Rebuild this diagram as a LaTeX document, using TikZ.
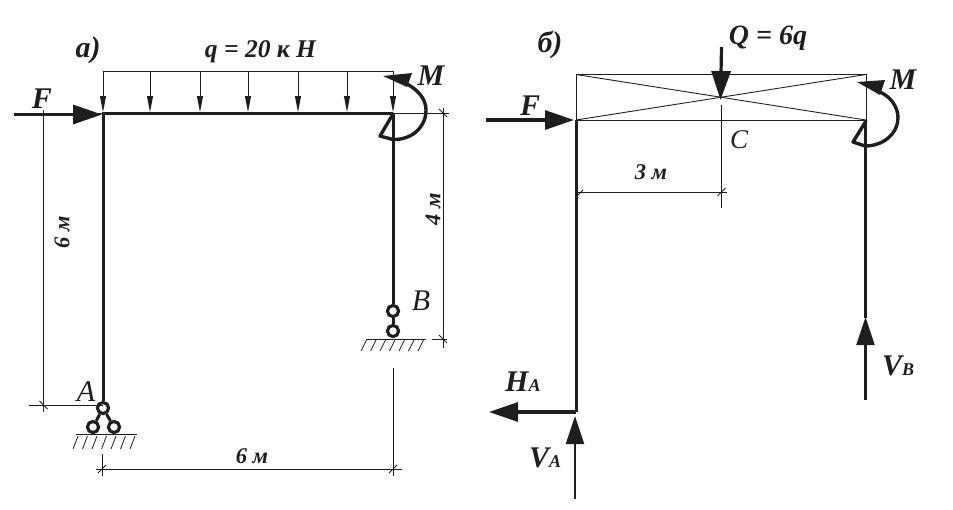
\documentclass[tikz,border=0pt]{standalone}
\usepackage{fontspec}
\setmainfont{Liberation Serif}
\usetikzlibrary{arrows.meta}
\newcommand{\fs}[1]{\fontsize{#1}{#1}\selectfont}
\definecolor{inkc}{HTML}{1E1E1C}
\tikzset{
  x=1pt,y=-1pt,
  thinl/.style={line width=0.9pt,color=inkc},
  beam/.style={line width=3pt,color=inkc},
  force/.style={line width=3.2pt,color=inkc,-{Triangle[length=29pt,width=19pt]}},
  slimforce/.style={line width=2.2pt,color=inkc,-{Triangle[length=28pt,width=18pt]}},
  loadarrow/.style={line width=0.9pt,color=inkc,-{Triangle[length=16pt,width=6pt]}},
  momarc/.style={line width=3.4pt,color=inkc,line cap=round,line join=round},
  momhead/.style={fill=inkc,draw=none},
  hinge/.style={circle,draw=inkc,line width=3pt,fill=white,minimum size=11pt,inner sep=0pt},
  hatch/.style={line width=0.8pt,color=inkc},
  lab/.style={inner sep=0pt,font=\fs{30}\bfseries\itshape,text=inkc},
  dimlab/.style={inner sep=0pt,font=\fs{22.5}\bfseries\itshape,text=inkc},
  pointlab/.style={inner sep=0pt,font=\fs{30}\itshape,text=inkc}
}
\begin{document}
\begin{tikzpicture}
\useasboundingbox (0,0) rectangle (953,509);
% ---------- a) ----------
\coordinate (LA) at (103,113);
\coordinate (LB) at (393,113);
\coordinate (LFs) at (14,114.5);
\coordinate (LFe) at (102,114.5);
\node[hinge] (hA) at (103,408) {};
\node[hinge] (hA1) at (93,427) {};
\node[hinge] (hA2) at (114,427) {};
\node[hinge] (hB) at (393,311) {};
\node[hinge] (hB1) at (393,331) {};
\draw[beam] (LA) -- (hA);
\draw[beam] (102,113) -- (LB);
\draw[beam] (LB) -- (hB);
\draw[beam] (hB) -- (hB1);
\draw[beam] (hA) -- (hA1);
\draw[beam] (hA) -- (hA2);
\node[hinge] at (hA) {};
\node[hinge] at (hA1) {};
\node[hinge] at (hA2) {};
\node[hinge] at (hB) {};
\node[hinge] at (hB1) {};
\draw[force] (LFs) -- (LFe);
% load
\draw[thinl] (103,71) -- (393,71);
\foreach \x in {103,150,200,248,298,347,393}
  \draw[loadarrow] (\x,71) -- (\x,112);
% moment
\draw[momarc] (393,114) -- (380,136) -- (393,139.5)
  .. controls (412,140) and (426,127) .. (426,110)
  .. controls (426,99) and (418,90) .. (407,84);
\fill[momhead] (383,76) -- (412,73) -- (407,87) -- cycle;
% grounds
\draw[hatch] (76,434) -- (137,434);
\foreach \x in {78,87.5,97,106.5,116,125.5,135}
  \draw[hatch] (\x,436) -- (\x-5,449);
\draw[hatch] (367,339) -- (426,339);
\foreach \x in {367,376.5,386,395.5,405,414.5,424}
  \draw[hatch] (\x,339) -- (\x-6,351);
% dimensions
\draw[thinl] (43.5,110) -- (43.5,412);
\draw[thinl] (43.5,113) -- (103,113);
\draw[thinl] (29,405) -- (103,405);
\draw[thinl] (39.5,401) -- (47.5,409);
\draw[thinl] (443,108) -- (443,348);
\draw[thinl] (393,113) -- (449,113);
\draw[thinl] (432,339) -- (447,339);
\draw[thinl] (439,335) -- (447,343);
\draw[thinl] (439,109) -- (447,117);
\draw[thinl] (96,469) -- (402,469);
\draw[thinl] (102,454) -- (102,476);
\draw[thinl] (393,368) -- (393,476);
\draw[thinl] (98,473) -- (106,465);
\draw[thinl] (389,473) -- (397,465);
% labels
\node[lab] (ta) at (88,50) {а)};
\node[lab,font=\fs{25.5}\bfseries\itshape] (tq) at (260.5,52) {q = 20 к Н};
\node[lab] (tF) at (42,99) {F};
\node[lab] (tM) at (431,76) {M};
\node[dimlab,rotate=90] (t6a) at (62,232) {6 м};
\node[dimlab,rotate=90] (t4) at (433,209) {4 м};
\node[dimlab] (t6b) at (252,456) {6 м};
\node[pointlab] (tA) at (86,392) {A};
\node[pointlab] (tB) at (421,301) {B};
% ---------- b) ----------
\coordinate (RA) at (576,120);
\coordinate (RB) at (865.5,120);
\coordinate (RBe) at (865.5,318);
\coordinate (RA0) at (576,412);
\coordinate (RTL) at (576,74.5);
\coordinate (RTR) at (866,74.5);
\draw[thinl] (RTL) rectangle (866,120);
\draw[thinl] (RTL) -- (866,120);
\draw[thinl] (576,120) -- (RTR);
\draw[beam] (RA) -- (RA0);
\draw[beam] (RB) -- (RBe);
\draw[force] (486,120) -- (574,120);
\draw[force] (721.5,47) -- (720.5,100);
% moment
\draw[momarc] (866,121) -- (853,142) -- (865,146)
  .. controls (884,146) and (898,133) .. (898,118)
  .. controls (898,107) and (891,97) .. (880,92);
\fill[momhead] (857,82) -- (885,80) -- (880,95) -- cycle;
% C dimension
\draw[thinl] (721.5,105) -- (721.5,208);
\draw[thinl] (577,192) -- (727,192);
\draw[thinl] (717.5,196) -- (725.5,188);
\draw[thinl] (577,196) -- (583,190);
% reactions
\draw[force] (576,412) -- (489,412);
\draw[slimforce] (575,499) -- (575,416);
\draw[slimforce] (865.5,400) -- (865.5,317);
% labels
\node[lab] (tb) at (550,45) {б)};
\node[lab,font=\fs{28}\bfseries\itshape] (tQ) at (768,38) {Q = 6q};
\node[lab] (tF2) at (530,106) {F};
\node[lab] (tM2) at (903,80) {M};
\node[dimlab] (t3) at (651,172) {3 м};
\node[pointlab,font=\fs{27}\itshape] (tC) at (739,140) {C};
\node[lab,anchor=base west] (tH) at (505,391) {H{\fs{18}A}};
\node[lab,anchor=base west] (tVA) at (529,467) {V{\fs{18}A}};
\node[lab,anchor=base west] (tVB) at (882,375) {V{\fs{18}B}};
\end{tikzpicture}
\end{document}
